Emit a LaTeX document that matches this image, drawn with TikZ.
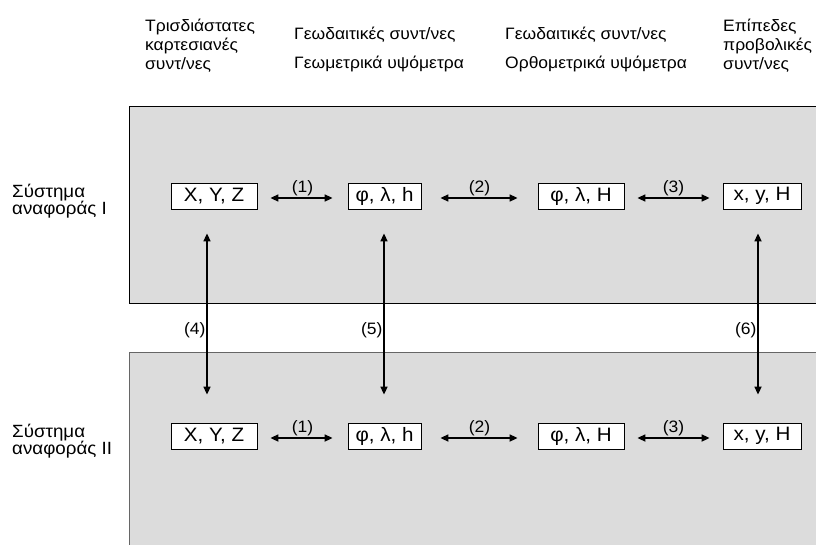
\documentclass[tikz,border=0pt]{standalone}
\usepackage{fontspec}
\setmainfont{Liberation Sans}[FakeStretch=1.06]
\usetikzlibrary{arrows.meta}
\definecolor{panel}{HTML}{DCDCDC}
\begin{document}
\begin{tikzpicture}[x=1pt,y=-1pt,
  box/.style={draw, fill=white, line width=0.8pt, inner sep=0pt, minimum height=26pt, font=\fontsize{19.4}{21}\selectfont},
  hdr/.style={anchor=base west, inner sep=0pt, font=\fontsize{16.5}{18}\selectfont},
  sys/.style={anchor=base west, inner sep=0pt, font=\fontsize{17.7}{19}\selectfont},
  lab/.style={inner sep=0.8pt, font=\fontsize{16.5}{18}\selectfont},
  arr/.style={line width=1.6pt, {Triangle[length=8pt,width=7pt]}-{Triangle[length=8pt,width=7pt]}}]
\useasboundingbox (0,0) rectangle (816,544);
\clip (0,0) rectangle (816,544);
% panels
\draw[fill=panel, line width=0.8pt] (129,106) rectangle (830,303);
\draw[fill=panel, line width=0.8pt, draw=black!60] (129,352) rectangle (830,560);
% headers
\node[hdr] (h1a) at (145,31) {Τρισδιάστατες};
\node[hdr] (h1b) at (145,50) {καρτεσιανές};
\node[hdr] (h1c) at (145,69) {συντ/νες};
\node[hdr] (h2a) at (294,39) {Γεωδαιτικές συντ/νες};
\node[hdr] (h2b) at (294,68) {Γεωμετρικά υψόμετρα};
\node[hdr] (h3a) at (505,39) {Γεωδαιτικές συντ/νες};
\node[hdr] (h3b) at (505,68) {Ορθομετρικά υψόμετρα};
\node[hdr] (h4a) at (723,31) {Επίπεδες};
\node[hdr] (h4b) at (723,50) {προβολικές};
\node[hdr] (h4c) at (723,69) {συντ/νες};
% system labels
\node[sys] (s1a) at (12,197) {Σύστημα};
\node[sys] (s1b) at (12,214) {αναφοράς Ι};
\node[sys] (s2a) at (12,437) {Σύστημα};
\node[sys] (s2b) at (12,454) {αναφοράς ΙΙ};
% boxes
\node[box, minimum width=86pt] (a1) at (214,196) {X, Y, Z};
\node[box, minimum width=73pt] (b1) at (384.5,196) {φ, λ, h};
\node[box, minimum width=86pt] (c1) at (581,196) {φ, λ, H};
\node[box, minimum width=78pt] (d1) at (762,196) {x, y, H};
\node[box, minimum width=86pt] (a2) at (214,436) {X, Y, Z};
\node[box, minimum width=73pt] (b2) at (384.5,436) {φ, λ, h};
\node[box, minimum width=86pt] (c2) at (581,436) {φ, λ, H};
\node[box, minimum width=78pt] (d2) at (762,436) {x, y, H};
% horizontal arrows
\foreach \r in {1,2}{
  \draw[arr, shorten <=13pt, shorten >=15pt] ([yshift=-2pt]a\r.east) -- ([yshift=-2pt]b\r.west) node[midway, above, lab] {(1)};
  \draw[arr, shorten <=19pt, shorten >=20pt] ([yshift=-2pt]b\r.east) -- ([yshift=-2pt]c\r.west) node[midway, above, lab] {(2)};
  \draw[arr, shorten <=13pt, shorten >=13pt] ([yshift=-2pt]c\r.east) -- ([yshift=-2pt]d\r.west) node[midway, above, lab] {(3)};
}
% vertical arrows
\draw[arr, shorten <=24pt, shorten >=28pt] ([xshift=-7pt]a1.south) -- ([xshift=-7pt]a2.north) node[pos=0.565, left, lab] {(4)};
\draw[arr, shorten <=24pt, shorten >=28pt] ([xshift=-0.5pt]b1.south) -- ([xshift=-0.5pt]b2.north) node[pos=0.565, left, lab] {(5)};
\draw[arr, shorten <=24pt, shorten >=28pt] ([xshift=-4pt]d1.south) -- ([xshift=-4pt]d2.north) node[pos=0.565, left, lab] {(6)};
\end{tikzpicture}
\end{document}
